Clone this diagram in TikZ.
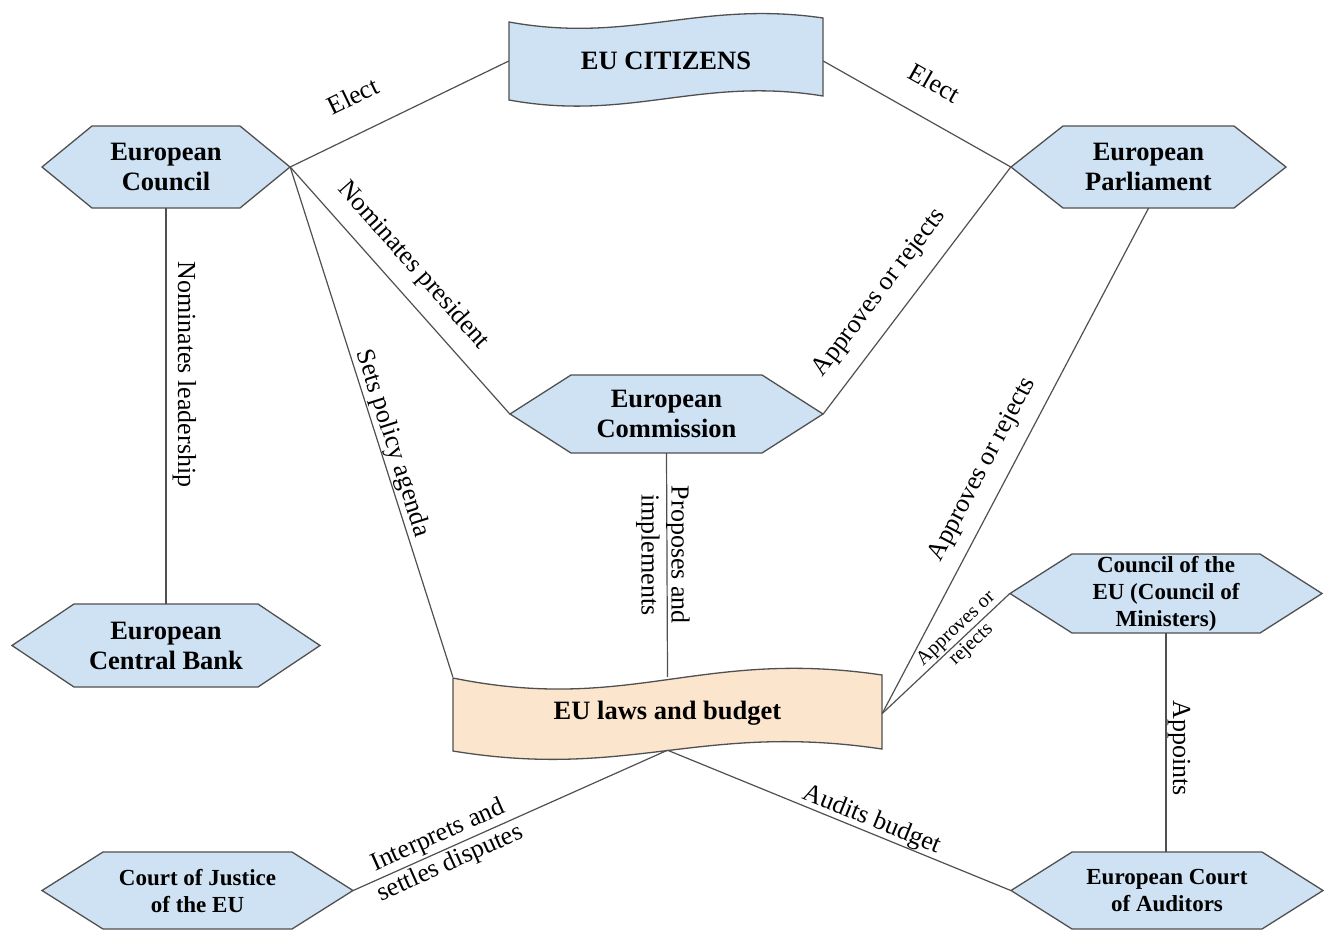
\documentclass[tikz,border=0pt]{standalone}
\usepackage{fontspec}
\setmainfont{Liberation Serif}
\usetikzlibrary{calc}
\definecolor{hexblue}{HTML}{CFE2F3}
\definecolor{lawfill}{HTML}{FCE5CD}
\definecolor{edgegray}{HTML}{505050}
\tikzset{
  shapeline/.style={draw=edgegray, line width=1.3pt, line join=miter},
  conn/.style={draw=edgegray, line width=1.2pt},
  nodetext/.style={inner sep=0pt, align=center, font=\fontsize{26.5}{30}\selectfont\bfseries},
  smalltext/.style={inner sep=0pt, align=center, font=\fontsize{23}{27}\selectfont\bfseries},
  elabel/.style={font=\fontsize{26}{30}\selectfont, inner sep=1pt, align=center},
  slabel/.style={font=\fontsize{20}{22}\selectfont, inner sep=1pt, align=center},
}
% #1 name, #2 cx, #3 cy, #4 half width, #5 half height, #6 inset, #7 text style
\newcommand\hexshape[7]{%
  \path[shapeline, fill=hexblue] (#2-#4,#3) -- (#2-#4+#6,#3-#5) -- (#2+#4-#6,#3-#5)
     -- (#2+#4,#3) -- (#2+#4-#6,#3+#5) -- (#2-#4+#6,#3+#5) -- cycle;
  \node[#7, minimum width=2*#4pt, minimum height=2*#5pt] (#1) at (#2,#3)
}
\begin{document}
\begin{tikzpicture}[x=1pt, y=-1pt]
\useasboundingbox[fill=white] (0,0) rectangle (1324,930);

% wave shapes
\path[shapeline, fill=hexblue] (509,22) .. controls (630,44) and (700,0) .. (823,18)
   -- (823,96) .. controls (700,76) and (630,122) .. (509,100) -- cycle;
\node[nodetext, minimum width=314pt, minimum height=80pt] (cit) at (666,61) {EU CITIZENS};

\path[shapeline, fill=lawfill] (453,678) .. controls (630,714) and (700,648) .. (882,675)
   -- (882,749) .. controls (700,722) and (630,780) .. (453,751) -- cycle;
\node[nodetext, minimum width=429pt, minimum height=73pt] (laws) at (667.5,713.5) {EU laws and budget};

% hexagons
\hexshape{ec}{166}{167}{124}{41}{50}{nodetext} {European\\Council};
\hexshape{parl}{1148.5}{167}{137.5}{41}{52}{nodetext} {European\\Parliament};
\hexshape{comm}{666.5}{414}{156.5}{39}{61}{nodetext} {European\\Commission};
\hexshape{ecb}{166}{645.5}{154}{41.5}{62}{nodetext} {European\\Central Bank};
\hexshape{cou}{1166}{593.5}{156}{39.5}{62}{smalltext} {Council of the\\EU (Council of\\Ministers)};
\hexshape{cj}{197.5}{890.5}{155.5}{38.5}{61}{smalltext} {Court of Justice\\of the EU};
\hexshape{aud}{1167}{890.5}{156}{38.5}{61}{smalltext} {European Court\\of Auditors};

% connectors
\draw[conn] (ec.east) -- node[elabel, sloped, above=26pt, pos=0.36] {Elect} (cit.west);
\draw[conn] (cit.east) -- node[elabel, sloped, above=25pt, pos=0.5] {Elect} (parl.west);
\draw[conn] (ec.east) -- node[elabel, sloped, above=13pt, pos=0.47] {Nominates president} (comm.west);
\draw[conn] (ec.east) -- node[elabel, sloped, above=0pt, pos=0.55] {Sets policy agenda} (laws.north west);
\draw[conn] (ec.south) -- node[elabel, rotate=-90, anchor=south, inner sep=6pt, pos=0.42] {Nominates leadership} (ec.south |- ecb.north);
\draw[conn] (comm.east) -- node[elabel, sloped, above=15pt, pos=0.42] {Approves or rejects} (parl.west);
\draw[conn] (laws.east) -- node[elabel, sloped, above=12pt, pos=0.46] {Approves or rejects} (parl.south);
\draw[conn] (laws.east) -- node[slabel, sloped, pos=0.64] {Approves or\\rejects} (cou.west);
\draw[conn] (comm.south) -- node[elabel, xshift=-4pt, rotate=-90, pos=0.455] {Proposes and\\implements} (laws.north);
\draw[conn] (cj.east) -- node[elabel, sloped, pos=0.29] {Interprets and\\settles disputes} (laws.south);
\draw[conn] (laws.south) -- node[elabel, sloped, above=0pt, inner sep=0pt, pos=0.58] {Audits budget} (aud.west);
\draw[conn] (cou.south) -- node[elabel, rotate=-90, anchor=south, pos=0.525] {Appoints} (cou.south |- aud.north);
\end{tikzpicture}
\end{document}
